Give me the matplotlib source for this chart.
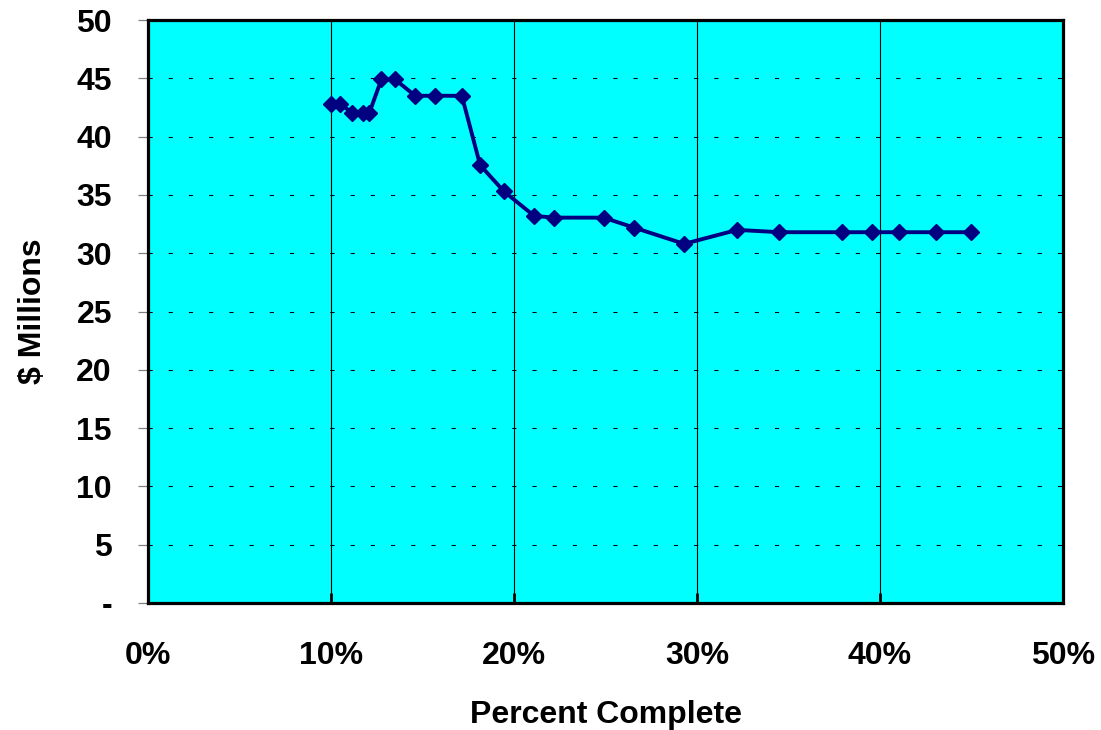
import matplotlib
matplotlib.use("Agg")
import matplotlib.pyplot as plt
from matplotlib.ticker import FuncFormatter

# Data (percent complete, $ millions)
pct_complete = [10.0, 10.5, 11.15, 11.75, 12.1, 12.75, 13.5, 14.6, 15.7, 17.15,
                18.15, 19.45, 21.1, 22.2, 24.9, 26.55, 29.3, 32.2, 34.5, 37.9,
                39.55, 41.05, 43.05, 44.95]
millions = [42.8, 42.8, 42.05, 42.05, 42.05, 44.9, 44.9, 43.5, 43.5, 43.5,
            37.55, 35.3, 33.2, 33.05, 33.05, 32.2, 30.8, 32.0, 31.8, 31.8,
            31.8, 31.8, 31.8, 31.8]
x_ticks = [0, 10, 20, 30, 40, 50]
y_ticks = [0, 5, 10, 15, 20, 25, 30, 35, 40, 45, 50]

plt.rcParams['font.family'] = ['Liberation Sans', 'DejaVu Sans']
plt.rcParams['font.weight'] = 'bold'

fig = plt.figure(figsize=(11.01, 7.30), dpi=100)
ax = fig.add_axes([148/1101, 127/730, (1063-148)/1101, (603-20)/730])
ax.set_facecolor('#00FFFF')

ax.set_xlim(0, 50)
ax.set_ylim(0, 50)

# gridlines
for yv in y_ticks[1:-1]:
    ax.axhline(yv, color='black', lw=0.75, linestyle=(0, (4, 15.4)), zorder=1)
for xv in x_ticks[1:-1]:
    ax.axvline(xv, color='black', lw=0.8, zorder=1)

ax.plot(pct_complete, millions, color='#000080', lw=2.8, marker='D',
        markersize=8, markeredgecolor='#000080', markerfacecolor='#000080',
        zorder=3, clip_on=False)

for s in ax.spines.values():
    s.set_linewidth(2.3)
    s.set_color('black')
    s.set_zorder(4)

ax.set_xticks(x_ticks)
ax.set_yticks(y_ticks)
ax.xaxis.set_major_formatter(FuncFormatter(lambda v, p: f"{int(round(v))}%"))
ax.yaxis.set_major_formatter(FuncFormatter(lambda v, p: "-" if abs(v) < 1e-9 else f"{int(round(v))}"))

ax.tick_params(axis='y', direction='out', length=7, width=0.9, color='#808080',
               pad=19, labelsize=23)
ax.tick_params(axis='x', direction='in', length=7, width=2, color='black',
               pad=27, labelsize=23)
for lbl in ax.get_xticklabels() + ax.get_yticklabels():
    lbl.set_fontweight('bold')

ax.set_xlabel('Percent Complete', fontsize=23, fontweight='bold', labelpad=21)
ax.set_ylabel('$ Millions', fontsize=23, fontweight='bold', labelpad=20)

fig.savefig('out.png', dpi=100)
